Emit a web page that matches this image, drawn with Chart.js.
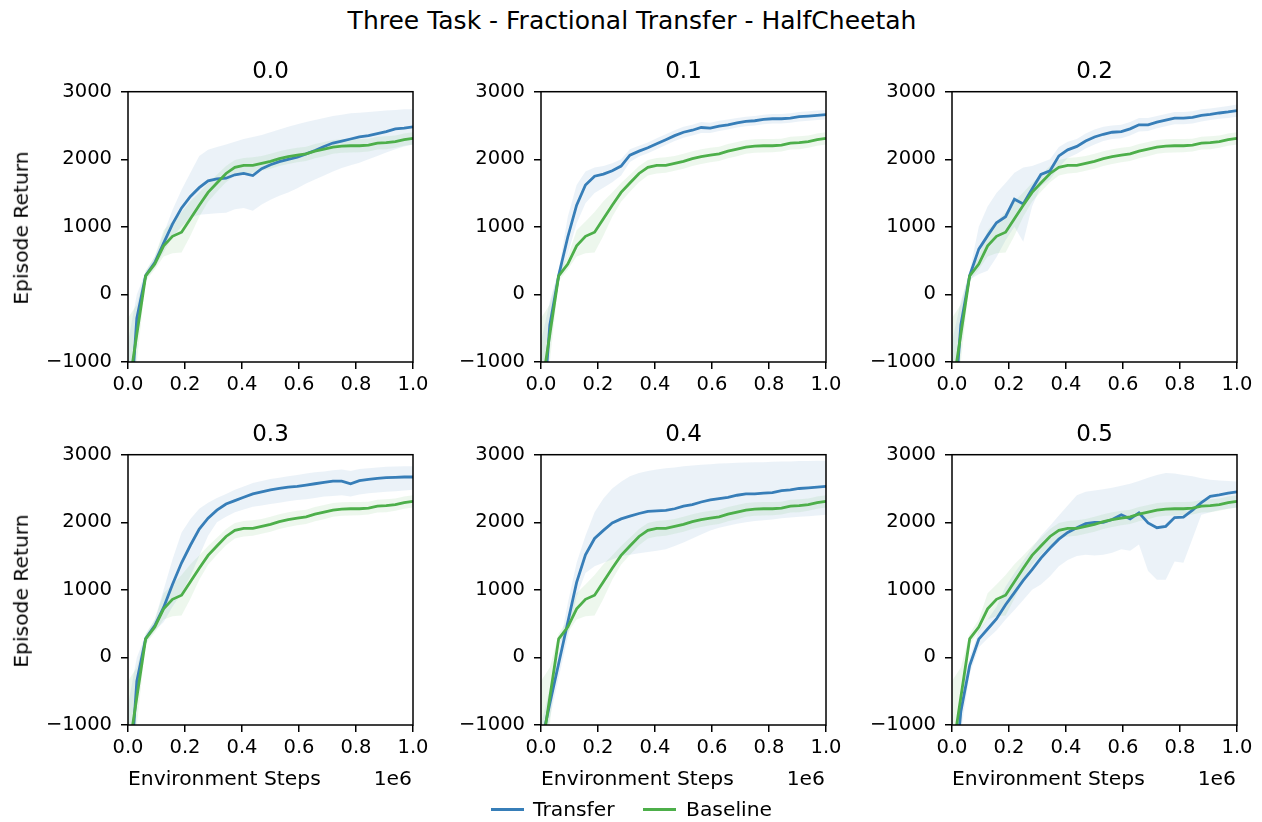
<!DOCTYPE html>
<html>
<head>
<meta charset="utf-8">
<script src="https://cdn.jsdelivr.net/npm/chart.js@4/dist/chart.umd.min.js"></script>
<style>
  body { margin: 0; background: #fff; }
  #fig { position: relative; width: 1262px; height: 822px; overflow: hidden; font-family: 'DejaVu Sans', sans-serif; color: #000; }
  .txt { position: absolute; white-space: nowrap; line-height: 1; }
  .panel { position: absolute; }
  .key { position: absolute; height: 3px; }
</style>
</head>
<body>
<div id="fig"></div>
<script>
// x axis: environment steps (in units of 1e6)
const steps = [0, 0.031, 0.062, 0.094, 0.125, 0.156, 0.188, 0.219, 0.25, 0.281, 0.312, 0.344, 0.375, 0.406, 0.438, 0.469, 0.5,
  0.531, 0.562, 0.594, 0.625, 0.656, 0.688, 0.719, 0.75, 0.781, 0.812, 0.844, 0.875, 0.906, 0.938, 0.969, 1.0];

const panelTitles = ['0.0', '0.1', '0.2', '0.3', '0.4', '0.5'];
const yTicks = [-1000, 0, 1000, 2000, 3000];
const xTicks = [0, 0.2, 0.4, 0.6, 0.8, 1.0];

// Baseline (the same run in every panel)
const baselineMean = [-1460, -590, 275, 450, 720, 860, 920, 1120, 1320, 1510, 1650, 1790, 1880, 1910, 1910, 1940, 1970, 2010, 2040, 2060, 2080, 2120, 2150, 2180, 2195, 2200, 2200, 2210, 2240, 2245, 2260, 2290, 2310];
const baselineLo = [-2500, -1000, 200, 370, 560, 610, 620, 870, 1150, 1370, 1520, 1660, 1760, 1790, 1800, 1830, 1860, 1900, 1930, 1955, 1975, 2015, 2045, 2080, 2095, 2100, 2105, 2115, 2145, 2150, 2170, 2200, 2220];
const baselineHi = [-350, -150, 350, 560, 950, 1080, 1220, 1380, 1510, 1650, 1770, 1900, 1990, 2020, 2030, 2050, 2080, 2120, 2150, 2170, 2185, 2225, 2255, 2285, 2295, 2300, 2300, 2305, 2335, 2340, 2350, 2380, 2400];

// Transfer, fraction 0.0
const transfer00 = [-2250, -350, 280, 470, 760, 1040, 1280, 1450, 1580, 1680, 1710, 1720, 1770, 1790, 1760, 1860, 1920, 1965, 2000, 2030, 2080, 2130, 2190, 2240, 2270, 2300, 2330, 2350, 2380, 2410, 2450, 2460, 2480];
const transfer00Lo = [-2800, -700, 220, 400, 620, 850, 1000, 1140, 1180, 1190, 1200, 1210, 1260, 1280, 1240, 1330, 1400, 1460, 1510, 1570, 1640, 1700, 1760, 1820, 1870, 1910, 1950, 2000, 2050, 2100, 2150, 2190, 2220];
const transfer00Hi = [-700, 0, 340, 560, 900, 1250, 1550, 1800, 2050, 2140, 2180, 2220, 2260, 2300, 2330, 2360, 2400, 2440, 2480, 2520, 2550, 2580, 2610, 2640, 2660, 2680, 2690, 2700, 2710, 2720, 2730, 2740, 2740];

// Transfer, fraction 0.1
const transfer01 = [-2200, -450, 280, 850, 1320, 1620, 1750, 1780, 1830, 1900, 2060, 2120, 2170, 2230, 2290, 2350, 2400, 2430, 2470, 2460, 2490, 2510, 2540, 2560, 2570, 2590, 2600, 2600, 2610, 2630, 2640, 2650, 2660];
const transfer01Lo = [-2800, -800, 200, 600, 1050, 1350, 1500, 1580, 1660, 1760, 1960, 2040, 2090, 2150, 2210, 2270, 2320, 2350, 2390, 2390, 2420, 2440, 2470, 2490, 2500, 2520, 2530, 2530, 2540, 2560, 2570, 2580, 2590];
const transfer01Hi = [-700, -100, 360, 1150, 1620, 1820, 1880, 1900, 1940, 2000, 2150, 2200, 2250, 2310, 2370, 2430, 2480, 2510, 2550, 2540, 2570, 2590, 2610, 2630, 2640, 2660, 2670, 2670, 2680, 2700, 2710, 2720, 2730];

// Transfer, fraction 0.2
const transfer02 = [-2200, -450, 280, 670, 870, 1060, 1150, 1410, 1340, 1560, 1775, 1830, 2050, 2140, 2190, 2270, 2330, 2370, 2400, 2410, 2450, 2510, 2510, 2550, 2580, 2610, 2610, 2620, 2650, 2665, 2685, 2700, 2720];
const transfer02Lo = [-2800, -800, 220, 300, 350, 550, 800, 1000, 780, 1300, 1600, 1700, 1880, 2020, 2080, 2160, 2220, 2270, 2300, 2310, 2350, 2410, 2420, 2460, 2490, 2520, 2520, 2530, 2560, 2580, 2600, 2610, 2630];
const transfer02Hi = [-700, -100, 340, 1000, 1300, 1500, 1650, 1800, 1880, 1900, 1950, 2000, 2180, 2260, 2300, 2380, 2440, 2480, 2500, 2510, 2550, 2610, 2610, 2640, 2670, 2700, 2700, 2710, 2740, 2750, 2770, 2790, 2810];

// Transfer, fraction 0.3
const transfer03 = [-2250, -350, 280, 470, 740, 1080, 1400, 1660, 1900, 2060, 2180, 2270, 2320, 2370, 2420, 2450, 2480, 2500, 2520, 2530, 2550, 2570, 2590, 2610, 2610, 2570, 2615, 2635, 2650, 2660, 2665, 2670, 2670];
const transfer03Lo = [-2800, -700, 220, 400, 520, 750, 950, 1200, 1500, 1800, 2000, 2080, 2150, 2190, 2230, 2250, 2270, 2290, 2310, 2330, 2340, 2360, 2380, 2390, 2400, 2380, 2410, 2430, 2440, 2450, 2460, 2470, 2480];
const transfer03Hi = [-700, 0, 340, 560, 1000, 1450, 1850, 2050, 2200, 2290, 2360, 2420, 2480, 2530, 2580, 2610, 2640, 2660, 2680, 2700, 2720, 2740, 2750, 2770, 2780, 2760, 2790, 2800, 2810, 2820, 2825, 2830, 2830];

// Transfer, fraction 0.4
const transfer04 = [-1300, -680, -90, 520, 1110, 1520, 1760, 1880, 1990, 2050, 2090, 2130, 2160, 2170, 2175, 2200, 2240, 2260, 2300, 2330, 2350, 2370, 2400, 2420, 2420, 2430, 2440, 2470, 2480, 2500, 2510, 2520, 2530];
const transfer04Lo = [-1600, -900, -300, 300, 900, 1250, 1350, 1400, 1450, 1500, 1520, 1540, 1560, 1580, 1600, 1650, 1700, 1760, 1820, 1880, 1920, 1950, 1980, 2000, 2020, 2030, 2040, 2060, 2070, 2080, 2090, 2100, 2110];
const transfer04Hi = [-1000, -450, 100, 800, 1400, 1800, 2150, 2350, 2500, 2600, 2680, 2730, 2760, 2780, 2800, 2810, 2830, 2840, 2850, 2860, 2870, 2875, 2880, 2885, 2890, 2890, 2895, 2900, 2900, 2905, 2905, 2910, 2910];

// Transfer, fraction 0.5
const transfer05 = [-2200, -800, -120, 270, 420, 570, 780, 960, 1140, 1300, 1470, 1620, 1750, 1850, 1920, 1980, 2000, 2000, 2040, 2110, 2050, 2140, 1990, 1920, 1940, 2070, 2075, 2180, 2290, 2385, 2405, 2430, 2450];
const transfer05Lo = [-2600, -1100, -250, 150, 280, 400, 560, 700, 850, 1000, 1080, 1200, 1350, 1440, 1500, 1520, 1510, 1520, 1550, 1600, 1580, 1670, 1280, 1150, 1150, 1420, 1400, 1760, 2110, 2150, 2180, 2200, 2220];
const transfer05Hi = [-1800, -500, 0, 400, 560, 750, 1050, 1250, 1430, 1620, 1800, 1950, 2100, 2250, 2400, 2450, 2470, 2490, 2510, 2540, 2570, 2610, 2660, 2700, 2730, 2720, 2700, 2680, 2650, 2630, 2620, 2610, 2605];

const colors = {
  transfer: '#377eb8',
  baseline: '#4daf4a',
  transferBand: 'rgba(55, 126, 184, 0.1)',
  baselineBand: 'rgba(77, 175, 74, 0.1)',
};

const runs = [
  [transfer00, transfer00Lo, transfer00Hi],
  [transfer01, transfer01Lo, transfer01Hi],
  [transfer02, transfer02Lo, transfer02Hi],
  [transfer03, transfer03Lo, transfer03Hi],
  [transfer04, transfer04Lo, transfer04Hi],
  [transfer05, transfer05Lo, transfer05Hi],
];

// page geometry
const plotLefts = [128, 541, 952];
const plotTops = [92, 455];
const plotW = 285, plotH = 271;
const axW = 110, axH = 45, padTop = 15, padRight = 25;

Chart.defaults.font.family = "'DejaVu Sans', sans-serif";
Chart.defaults.font.size = 19.5;
Chart.defaults.color = '#000';

const fig = document.getElementById('fig');

function addText(str, x, y, size, opts = {}) {
  const d = document.createElement('div');
  d.className = 'txt';
  d.textContent = str;
  d.style.fontSize = size + 'px';
  d.style.left = x + 'px';
  d.style.top = y + 'px';
  d.style.transform = opts.transform || 'translate(-50%, -50%)';
  fig.appendChild(d);
  return d;
}

function pts(arr) {
  return steps.map((x, i) => ({ x: x, y: arr[i] }));
}

// draws the full box around the axes
const frame = {
  id: 'frame',
  afterDraw(chart) {
    const { ctx, chartArea: a } = chart;
    ctx.save();
    ctx.strokeStyle = '#000';
    ctx.lineWidth = 1.5;
    ctx.strokeRect(a.left, a.top, a.right - a.left, a.bottom - a.top);
    ctx.restore();
  }
};

const band = (arr, color, fill, order) => ({
  data: pts(arr),
  borderWidth: 0,
  borderColor: 'rgba(0,0,0,0)',
  backgroundColor: color,
  pointRadius: 0,
  fill: fill,
  order: order,
});

const line = (label, arr, color, order) => ({
  label: label,
  data: pts(arr),
  borderColor: color,
  backgroundColor: color,
  borderWidth: 2.8,
  pointRadius: 0,
  fill: false,
  tension: 0,
  order: order,
});

function makeChart(canvas, run) {
  return new Chart(canvas, {
    type: 'line',
    data: {
      datasets: [
        band(run[1], colors.transferBand, false, 4),
        band(run[2], colors.transferBand, '-1', 4),
        band(baselineLo, colors.baselineBand, false, 3),
        band(baselineHi, colors.baselineBand, '-1', 3),
        line('Transfer', run[0], colors.transfer, 2),
        line('Baseline', baselineMean, colors.baseline, 1),
      ]
    },
    options: {
      responsive: false,
      animation: false,
      devicePixelRatio: 1,
      layout: { padding: { top: padTop, right: padRight, left: 0, bottom: 0 } },
      plugins: { legend: { display: false }, tooltip: { enabled: false } },
      scales: {
        x: {
          type: 'linear',
          min: 0,
          max: 1,
          afterFit: s => { s.height = axH; },
          afterBuildTicks: s => { s.ticks = xTicks.map(v => ({ value: v })); },
          ticks: { padding: 4, maxRotation: 0, autoSkip: false, callback: v => v.toFixed(1) },
          grid: { drawOnChartArea: false, drawTicks: true, tickLength: 7, color: '#000', lineWidth: 1.5 },
          border: { display: false },
        },
        y: {
          min: -1000,
          max: 3000,
          afterFit: s => { s.width = axW; },
          afterBuildTicks: s => { s.ticks = yTicks.map(v => ({ value: v })); },
          ticks: { padding: 9, autoSkip: false, callback: v => (v < 0 ? '\u2212' + Math.abs(v) : String(v)) },
          grid: { drawOnChartArea: false, drawTicks: true, tickLength: 7, color: '#000', lineWidth: 1.5 },
          border: { display: false },
        }
      }
    },
    plugins: [frame]
  });
}

runs.forEach((run, i) => {
  const col = i % 3, row = Math.floor(i / 3);
  const pl = plotLefts[col], pt = plotTops[row];

  const canvas = document.createElement('canvas');
  canvas.className = 'panel';
  canvas.width = axW + plotW + padRight;
  canvas.height = padTop + plotH + axH;
  fig.appendChild(canvas);

  // first pass: see where Chart.js puts the plot area, then grow the canvas so it is plotW x plotH
  let chart = makeChart(canvas, run);
  let a = chart.chartArea;
  const dw = plotW - (a.right - a.left), dh = plotH - (a.bottom - a.top);
  if (dw !== 0 || dh !== 0) {
    chart.destroy();
    canvas.width = axW + plotW + padRight + dw;
    canvas.height = padTop + plotH + axH + dh;
    chart = makeChart(canvas, run);
    a = chart.chartArea;
  }
  canvas.style.left = (pl - a.left) + 'px';
  canvas.style.top = (pt - a.top) + 'px';

  addText(panelTitles[i], pl + plotW / 2, pt - 22, 23);
  if (col === 0) {
    addText('Episode Return', 21, pt + plotH / 2, 20.3, { transform: 'translate(-50%, -50%) rotate(-90deg)' });
  }
  if (row === 1) {
    addText('Environment Steps', pl, 778, 20.3, { transform: 'translate(0, -50%)' });
    addText('1e6', pl + plotW - 1, 778, 20.3, { transform: 'translate(-100%, -50%)' });
  }
});

addText('Three Task - Fractional Transfer - HalfCheetah', 632, 20, 25);

// figure legend
function addKey(color, x1, x2, y) {
  const k = document.createElement('div');
  k.className = 'key';
  k.style.background = color;
  k.style.left = x1 + 'px';
  k.style.width = (x2 - x1) + 'px';
  k.style.top = (y - 1.5) + 'px';
  fig.appendChild(k);
}
addKey(colors.transfer, 491, 524, 809);
addText('Transfer', 533, 809, 20.3, { transform: 'translate(0, -50%)' });
addKey(colors.baseline, 643, 676, 809);
addText('Baseline', 686, 809, 20.3, { transform: 'translate(0, -50%)' });
</script>
</body>
</html>
